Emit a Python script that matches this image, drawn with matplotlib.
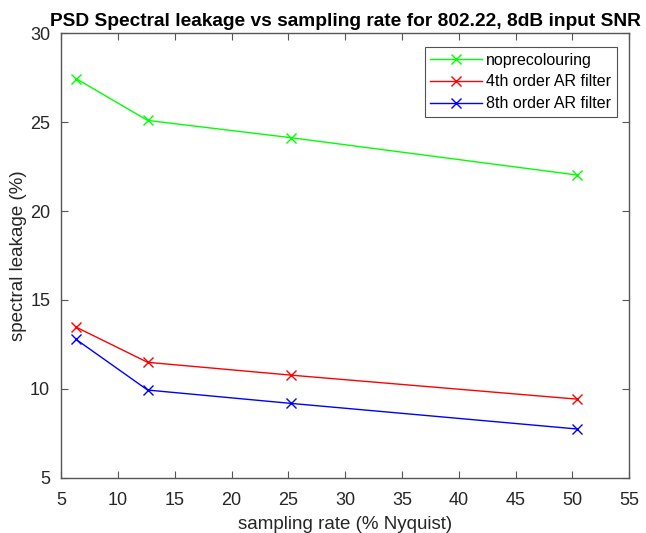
import numpy as np
import matplotlib
matplotlib.use("Agg")
import matplotlib.pyplot as plt

plt.rcParams['font.family'] = ['Liberation Sans', 'DejaVu Sans']

# sampling rate (% Nyquist)
rate = [6.3, 12.6, 25.2, 50.4]

# spectral leakage (%)
no_precol = [27.45, 25.1, 24.13, 22.03]
ar4 = [13.47, 11.49, 10.77, 9.42]
ar8 = [12.78, 9.93, 9.18, 7.74]

labels = ["noprecolouring", "4th order AR filter", "8th order AR filter"]

fig = plt.figure(figsize=(6.46, 5.33), dpi=100)
ax = fig.add_axes([0.0949, 0.1038, 0.8789, 0.8337])

ax.plot(rate, no_precol, color=(0, 1, 0), marker='x', markersize=7, lw=1.0, label=labels[0])
ax.plot(rate, ar4, color=(1, 0, 0), marker='x', markersize=7, lw=1.0, label=labels[1])
ax.plot(rate, ar8, color=(0, 0, 1), marker='x', markersize=7, lw=1.0, label=labels[2])

ax.set_xlim(5, 55)
ax.set_ylim(5, 30)
ax.set_xticks(np.arange(5, 56, 5))
ax.set_yticks(np.arange(5, 31, 5))

ax.tick_params(direction='in', top=True, right=True, length=5, width=0.8,
               colors='#555555', labelcolor='#262626', labelsize=13, pad=8)
ax.tick_params(axis='x', pad=10)
for s in ax.spines.values():
    s.set_color('#555555')
    s.set_linewidth(1.0)

ax.set_xlabel("sampling rate (% Nyquist)", fontsize=13.5, color='#262626', labelpad=5)
ax.set_ylabel("spectral leakage (%)", fontsize=13.5, color='#262626', labelpad=2)
ax.set_title("PSD Spectral leakage vs sampling rate for 802.22, 8dB input SNR",
             fontsize=13.8, fontweight='bold', pad=5)

leg = ax.legend(loc='upper right', bbox_to_anchor=(0.9787, 0.969), borderaxespad=0,
                fontsize=11.5, fancybox=False, edgecolor='#262626', handlelength=3.2,
                borderpad=0.35, labelspacing=0.42, handletextpad=0.3)
leg.get_frame().set_linewidth(0.8)

fig.savefig("out.png", dpi=100)
